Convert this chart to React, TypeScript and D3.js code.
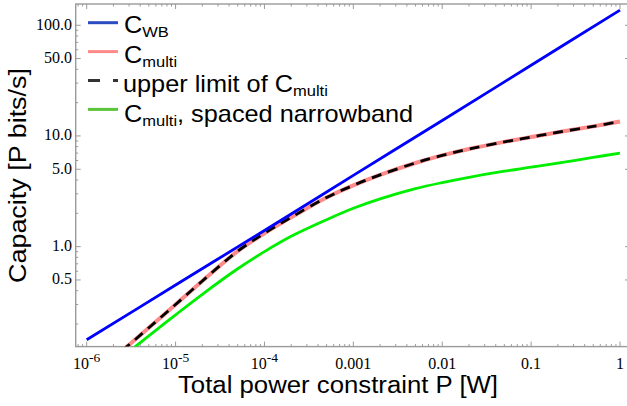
import React, { useRef, useEffect } from "react"
import * as d3 from "d3"

// values (P in W, C in P bits/s)
const powerWB = [1e-6, 1e-5, 1e-4, 1e-3, 1e-2, 0.1, 1]
const cWB = [0.144, 0.45, 1.4, 4.4, 13.8, 43.5, 137]

const powerW = [2.5e-6, 3e-6, 5e-6, 1e-5, 2e-5, 5e-5, 1e-4, 2e-4, 5e-4, 1e-3, 2e-3, 5e-3, 1e-2, 2e-2, 5e-2, 0.1, 0.2, 0.5, 1]
const cMulti = [0.115, 0.13, 0.185, 0.3, 0.49, 0.91, 1.32, 1.84, 2.78, 3.58, 4.45, 5.7, 6.67, 7.62, 8.84, 9.77, 10.8, 12.2, 13.5]
const cUpperLimit = [0.115, 0.13, 0.185, 0.3, 0.49, 0.91, 1.32, 1.84, 2.78, 3.58, 4.45, 5.7, 6.67, 7.62, 8.84, 9.77, 10.8, 12.2, 13.5]
const cSpaced = [0.1, 0.113, 0.156, 0.242, 0.371, 0.631, 0.902, 1.24, 1.75, 2.22, 2.7, 3.34, 3.79, 4.23, 4.8, 5.22, 5.68, 6.4, 7.0]

const xMajor = [1e-6, 1e-5, 1e-4, 1e-3, 1e-2, 0.1, 1]
const xMajorLabels = [["10", "-6"], ["10", "-5"], ["10", "-4"], ["0.001"], ["0.01"], ["0.1"], ["1"]]
const yMajor = [0.5, 1, 5, 10, 50, 100]
const yMajorLabels = ["0.5", "1.0", "5.0", "10.0", "50.0", "100.0"]

const legendItems = [
  { main: "C", sub: "WB", rest: "" },
  { main: "C", sub: "multi", rest: "" },
  { main: "upper limit of C", sub: "multi", rest: "" },
  { main: "C", sub: "multi", rest: ", spaced narrowband" },
]

const App = () => {
  const svgRef = useRef(null)

  useEffect(() => {
    const svg = d3.select(svgRef.current)
    svg.selectAll("*").remove()

    const left = 75.7
    const right = 630
    const top = 4
    const bottom = 346.6
    const axisColour = "#9a9a9a"
    const sans = "'Liberation Sans', Arial, sans-serif"
    const serif = "'Liberation Serif', 'Times New Roman', serif"

    const x = d3
      .scaleLog()
      .domain([10 ** -6.1237, 10 ** 0.1125])
      .range([left, right])
    const y = d3
      .scaleLog()
      .domain([10 ** -0.903, 10 ** 2.192])
      .range([bottom, top])

    svg
      .append("defs")
      .append("clipPath")
      .attr("id", "plot-clip")
      .append("rect")
      .attr("x", left)
      .attr("y", top)
      .attr("width", right - left)
      .attr("height", bottom - top)

    // frame
    svg
      .append("rect")
      .attr("x", left)
      .attr("y", top)
      .attr("width", right - left)
      .attr("height", bottom - top)
      .attr("fill", "none")
      .attr("stroke", axisColour)
      .attr("stroke-width", 1.4)

    // x ticks
    const xMinor = []
    for (let n = -7; n <= 0; n++) {
      for (let k = 2; k <= 9; k++) {
        const v = k * 10 ** n
        if (x(v) > left && x(v) < right) xMinor.push(v)
      }
    }
    const ticks = svg.append("g").attr("stroke", axisColour).attr("stroke-width", 1)
    xMajor.forEach(v => {
      ticks.append("line").attr("x1", x(v)).attr("x2", x(v)).attr("y1", bottom).attr("y2", bottom - 5)
      ticks.append("line").attr("x1", x(v)).attr("x2", x(v)).attr("y1", top).attr("y2", top + 5)
    })
    xMinor.forEach(v => {
      ticks.append("line").attr("x1", x(v)).attr("x2", x(v)).attr("y1", bottom).attr("y2", bottom - 2.5)
      ticks.append("line").attr("x1", x(v)).attr("x2", x(v)).attr("y1", top).attr("y2", top + 2.5)
    })

    // y ticks
    const yMinor = []
    for (let n = -1; n <= 2; n++) {
      for (let k = 1; k <= 9; k++) {
        const v = k * 10 ** n
        if (yMajor.some(m => Math.abs(m - v) < 1e-9)) continue
        if (y(v) > top && y(v) < bottom) yMinor.push(v)
      }
    }
    yMajor.forEach(v => {
      ticks.append("line").attr("x1", left).attr("x2", left + 5).attr("y1", y(v)).attr("y2", y(v))
      ticks.append("line").attr("x1", right).attr("x2", right - 5).attr("y1", y(v)).attr("y2", y(v))
    })
    yMinor.forEach(v => {
      ticks.append("line").attr("x1", left).attr("x2", left + 2.5).attr("y1", y(v)).attr("y2", y(v))
      ticks.append("line").attr("x1", right).attr("x2", right - 2.5).attr("y1", y(v)).attr("y2", y(v))
    })

    // tick labels
    xMajor.forEach((v, i) => {
      const lab = xMajorLabels[i]
      const t = svg
        .append("text")
        .attr("x", x(v))
        .attr("y", 369)
        .attr("text-anchor", "middle")
        .attr("font-family", serif)
        .attr("font-size", 16)
        .text(lab[0])
      if (lab.length > 1) {
        t.append("tspan").attr("dy", -7).attr("font-size", 13.5).text(lab[1])
      }
    })
    yMajor.forEach((v, i) => {
      svg
        .append("text")
        .attr("x", 72)
        .attr("y", y(v) + 4.5)
        .attr("text-anchor", "end")
        .attr("font-family", serif)
        .attr("font-size", 16)
        .text(yMajorLabels[i])
    })

    // axis titles
    svg
      .append("text")
      .attr("x", 178)
      .attr("y", 393)
      .attr("font-family", sans)
      .attr("font-size", 23)
      .attr("textLength", 320)
      .attr("lengthAdjust", "spacingAndGlyphs")
      .text("Total power constraint P [W]")
    svg
      .append("text")
      .attr("transform", "translate(25.5, 283) rotate(-90)")
      .attr("font-family", sans)
      .attr("font-size", 23)
      .attr("textLength", 215)
      .attr("lengthAdjust", "spacingAndGlyphs")
      .text("Capacity [P bits/s]")

    // curves
    const line = d3
      .line()
      .x(d => x(d[0]))
      .y(d => y(d[1]))
      .curve(d3.curveCatmullRom)
    const plot = svg.append("g").attr("clip-path", "url(#plot-clip)").attr("fill", "none")

    plot
      .append("path")
      .attr("d", line(powerW.map((p, i) => [p, cMulti[i]])))
      .attr("stroke", "#ff8a8a")
      .attr("stroke-width", 4)
    plot
      .append("path")
      .attr("d", line(powerW.map((p, i) => [p, cUpperLimit[i]])))
      .attr("stroke", "#000")
      .attr("stroke-width", 2.8)
      .attr("stroke-dasharray", "10 7")
    plot
      .append("path")
      .attr("d", line(powerW.map((p, i) => [p, cSpaced[i]])))
      .attr("stroke", "#00ee00")
      .attr("stroke-width", 2.8)
    plot
      .append("path")
      .attr("d", line(powerWB.map((p, i) => [p, cWB[i]])))
      .attr("stroke", "#0000ff")
      .attr("stroke-width", 2.8)

    // legend
    const swatchColours = ["#2b4bc0", "#ff8a8a", "#333", "#5cc43a"]
    legendItems.forEach((item, i) => {
      const sy = 22.7 + i * 28.9
      const sw = svg
        .append("line")
        .attr("x1", 88)
        .attr("x2", 118)
        .attr("y1", sy)
        .attr("y2", sy)
        .attr("stroke", swatchColours[i])
        .attr("stroke-width", 3)
      if (i === 2) sw.attr("stroke-dasharray", "12 13")

      const t = svg
        .append("text")
        .attr("transform", `translate(${i === 2 ? 123 : 124}, ${33 + i * 29.7}) scale(1.1, 1)`)
        .attr("font-family", sans)
        .attr("font-size", 23)
        .text(item.main)
      t.append("tspan").attr("dy", 4).attr("font-size", 15).text(item.sub)
      if (item.rest) t.append("tspan").attr("dy", -4).text(item.rest)
    })
  }, [])

  return (
    <svg
      ref={svgRef}
      width={627}
      height={406}
      style={{ position: "absolute", left: 0, top: 0, background: "#fff" }}
    />
  )
}

export default App
